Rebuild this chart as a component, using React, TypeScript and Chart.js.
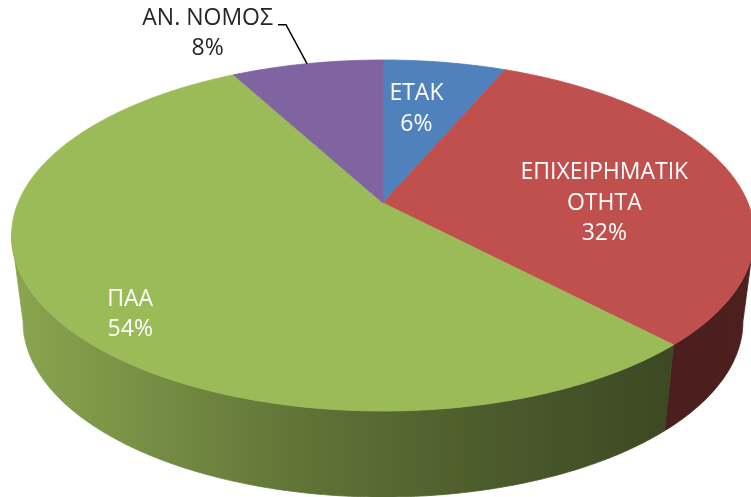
import React, { useEffect, useRef } from "react";
import { Chart, registerables } from "chart.js";

Chart.register(...registerables);

const categories = ["ΕΤΑΚ", "ΕΠΙΧΕΙΡΗΜΑΤΙΚΟΤΗΤΑ", "ΠΑΑ", "ΑΝ. ΝΟΜΟΣ"];
const values = [6.4, 31.5, 54.2, 7.9];
const labelLines = [["ΕΤΑΚ"], ["ΕΠΙΧΕΙΡΗΜΑΤΙΚ", "ΟΤΗΤΑ"], ["ΠΑΑ"], ["ΑΝ. ΝΟΜΟΣ"]];
const colors = ["#4f81bd", "#c0504d", "#9bbb59", "#8064a2"];

function hexToRgb(h: string) {
  const n = parseInt(h.slice(1), 16);
  return [(n >> 16) & 255, (n >> 8) & 255, n & 255];
}
function shade(h: string, f: number) {
  const [r, g, b] = hexToRgb(h);
  return `rgb(${Math.round(r * f)},${Math.round(g * f)},${Math.round(b * f)})`;
}

const pie3d = {
  id: "pie3d",
  beforeDatasetsDraw(chart: any, _args: any, opts: any) {
    const ctx: CanvasRenderingContext2D = chart.ctx;
    const meta = chart.getDatasetMeta(0);
    const { cx, cy, A, B, k, depth, shrink } = opts;
    const proj = (a: number, r: number) => {
      const u = Math.cos(a) * r;
      const v = -Math.sin(a) * r;
      const w = 1 + k * v;
      return [cx + (A * u) / w, cy - (B * v) / w];
    };
    const bottom = (p: number[]) => [cx + (p[0] - cx) * shrink, p[1] + depth];
    const aL = Math.asin(k);
    const aR = Math.PI - aL;
    const xL = cx - A / Math.sqrt(1 - k * k);
    const xR = cx + A / Math.sqrt(1 - k * k);

    ctx.save();
    // walls
    meta.data.forEach((arc: any, i: number) => {
      const { startAngle, endAngle } = arc.getProps(["startAngle", "endAngle"], true);
      const s = Math.max(startAngle, aL);
      const e = Math.min(endAngle, aR);
      if (e <= s) return;
      const N = Math.max(4, Math.ceil((e - s) * 80));
      const top: number[][] = [];
      for (let j = 0; j <= N; j++) top.push(proj(s + ((e - s) * j) / N, 1));
      ctx.beginPath();
      top.forEach((p, j) => (j === 0 ? ctx.moveTo(p[0], p[1]) : ctx.lineTo(p[0], p[1])));
      for (let j = top.length - 1; j >= 0; j--) {
        const b = bottom(top[j]);
        ctx.lineTo(b[0], b[1]);
      }
      ctx.closePath();
      const c = colors[i];
      const g = ctx.createLinearGradient(xL, 0, xR, 0);
      g.addColorStop(0, shade(c, 0.89));
      g.addColorStop(0.39, shade(c, 0.62));
      g.addColorStop(0.66, shade(c, 0.48));
      g.addColorStop(0.89, shade(c, 0.39));
      g.addColorStop(1, shade(c, 0.4));
      ctx.fillStyle = g;
      ctx.strokeStyle = g;
      ctx.lineWidth = 0.8;
      ctx.fill();
      ctx.stroke();
    });
    // top faces
    meta.data.forEach((arc: any, i: number) => {
      const { startAngle, endAngle } = arc.getProps(["startAngle", "endAngle"], true);
      const N = Math.max(4, Math.ceil((endAngle - startAngle) * 80));
      ctx.beginPath();
      ctx.moveTo(cx, cy);
      for (let j = 0; j <= N; j++) {
        const p = proj(startAngle + ((endAngle - startAngle) * j) / N, 1);
        ctx.lineTo(p[0], p[1]);
      }
      ctx.closePath();
      ctx.fillStyle = colors[i];
      ctx.strokeStyle = colors[i];
      ctx.lineWidth = 0.8;
      ctx.fill();
      ctx.stroke();
    });

    // labels
    const total = values.reduce((a, b) => a + b, 0);
    ctx.font = `${opts.fontSize}px "Open Sans", "Noto Sans", sans-serif`;
    ctx.textBaseline = "middle";
    ctx.textAlign = "center";
    const lh = opts.lineHeight;
    meta.data.forEach((arc: any, i: number) => {
      const { startAngle, endAngle } = arc.getProps(["startAngle", "endAngle"], true);
      const mid = (startAngle + endAngle) / 2;
      const lines = [...labelLines[i], Math.round((values[i] / total) * 100) + "%"];
      const pl = opts.placements[i];
      let bx: number, by: number;
      if (pl.mode === "inside") {
        const p = proj(mid, pl.r);
        bx = p[0] + pl.dx;
        by = p[1] + pl.dy;
        ctx.fillStyle = "#ffffff";
      } else {
        const p0 = proj(mid, 1);
        const el = [p0[0] + pl.lead[0], p0[1] + pl.lead[1]];
        const tail = [el[0] - pl.tail, el[1]];
        ctx.beginPath();
        ctx.moveTo(p0[0], p0[1]);
        ctx.lineTo(el[0], el[1]);
        ctx.lineTo(tail[0], tail[1]);
        ctx.strokeStyle = "#000000";
        ctx.lineWidth = 1.5;
        ctx.stroke();
        const mw = Math.max(...lines.map((l) => ctx.measureText(l).width));
        bx = tail[0] - pl.gap - mw / 2;
        by = tail[1] + pl.dy;
        ctx.fillStyle = "#262626";
      }
      const y0 = by - ((lines.length - 1) * lh) / 2;
      lines.forEach((l, j) => ctx.fillText(l, bx, y0 + j * lh));
    });
    ctx.restore();
    return false;
  },
};

export default function App() {
  const ref = useRef<HTMLCanvasElement | null>(null);
  useEffect(() => {
    if (!ref.current) return;
    const chart = new Chart(ref.current, {
      type: "pie",
      data: {
        labels: categories,
        datasets: [{ data: values, backgroundColor: colors, borderWidth: 0 }],
      },
      options: {
        responsive: false,
        animation: false,
        events: [],
        plugins: {
          legend: { display: false },
          tooltip: { enabled: false },
          pie3d: {
            cx: 383,
            cy: 203,
            A: 365,
            B: 169.5,
            k: 0.1852,
            depth: 86,
            shrink: 0.969,
            fontSize: 23,
            lineHeight: 30.5,
            placements: [
              { mode: "inside", r: 0.6, dx: -6, dy: -4 },
              { mode: "inside", r: 0.6, dx: 10, dy: 18 },
              { mode: "inside", r: 0.8, dx: 6, dy: 24 },
              { mode: "outside", lead: [-21, -39], tail: 8, gap: 5, dy: 9 },
            ],
          },
        } as any,
      },
      plugins: [pie3d as any],
    });
    return () => chart.destroy();
  }, []);
  return (
    <div style={{ position: "fixed", left: 0, top: 0, width: 751, height: 497, background: "#ffffff" }}>
      <canvas ref={ref} width={751} height={497} style={{ display: "block" }} />
    </div>
  );
}
